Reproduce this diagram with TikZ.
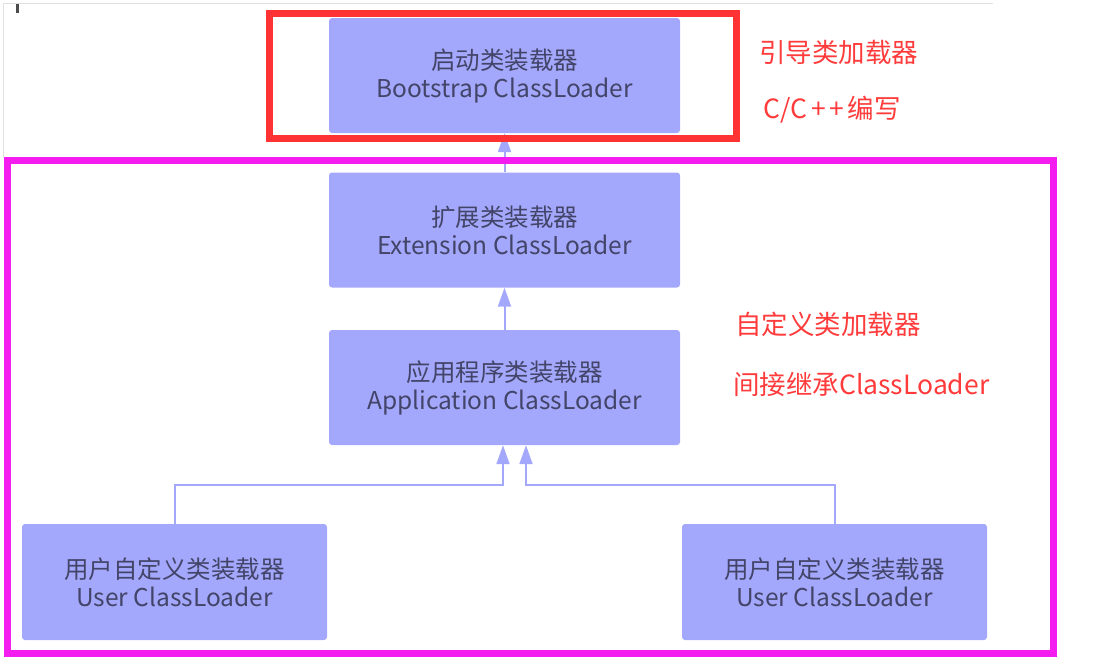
\documentclass[tikz,border=0pt]{standalone}
\usepackage{fontspec}
\setmainfont{Noto Sans CJK SC}
\usetikzlibrary{arrows.meta}

\definecolor{boxfill}{RGB}{164,168,252}
\definecolor{boxtext}{RGB}{66,68,104}
\definecolor{notered}{RGB}{255,59,59}
\definecolor{framered}{RGB}{255,51,51}
\definecolor{framepink}{RGB}{245,28,240}

\begin{document}
\begin{tikzpicture}[x=1pt,y=-1pt,>={Triangle[width=13pt,length=19pt]},
  loader/.style={rectangle,fill=boxfill,rounded corners=3pt,minimum width=351pt,
    minimum height=115pt,align=center,text=boxtext,font=\fontsize{24.5}{28}\selectfont},
  link/.style={draw=boxfill,line width=2pt},
  note/.style={text=notered,font=\fontsize{26.5}{30}\selectfont,anchor=west,inner sep=0pt}]

  \useasboundingbox (0,0) rectangle (1111,657);

  % screenshot edge
  \draw[black!12,line width=1pt] (3,157) -- (3,3) -- (993,3);
  \draw[black!70,line width=3pt] (17,4) -- (17,13);

  \node[loader] (boot) at (504.5,75.5) {启动类装载器\\Bootstrap ClassLoader};
  \node[loader] (ext) at (504.5,230) {扩展类装载器\\Extension ClassLoader};
  \node[loader] (app) at (504.5,387.5) {应用程序类装载器\\Application ClassLoader};
  \node[loader,minimum width=305pt,minimum height=116pt] (user1) at (174.5,582) {用户自定义类装载器\\User ClassLoader};
  \node[loader,minimum width=305pt,minimum height=116pt] (user2) at (834.5,582) {用户自定义类装载器\\User ClassLoader};

  \coordinate (jl) at (503,485);
  \coordinate (jr) at (526,485);

  \draw[link,->] (ext) -- (boot);
  \draw[link,->] (app) -- (ext);
  \draw[link,->] (user1) -- (user1 |- jl) -- (jl) -- (jl |- app.south);
  \draw[link,->] (user2) -- (user2 |- jr) -- (jr) -- (jr |- app.south);

  % frames
  \draw[framered,line width=7pt] (269.5,13.5) rectangle (736.5,138);
  \draw[framepink,line width=7pt] (7,160) rectangle (1053.5,653.5);

  \node[note] (n1) at (759,52) {引导类加载器};
  \node[note] (n2) at (763,110) {C/C\kern4pt+\kern4pt+\kern3pt编写};
  \node[note] (n3) at (735,324) {自定义类加载器};
  \node[note] (n4) at (733,384) {间接继承ClassLoader};
\end{tikzpicture}
\end{document}
